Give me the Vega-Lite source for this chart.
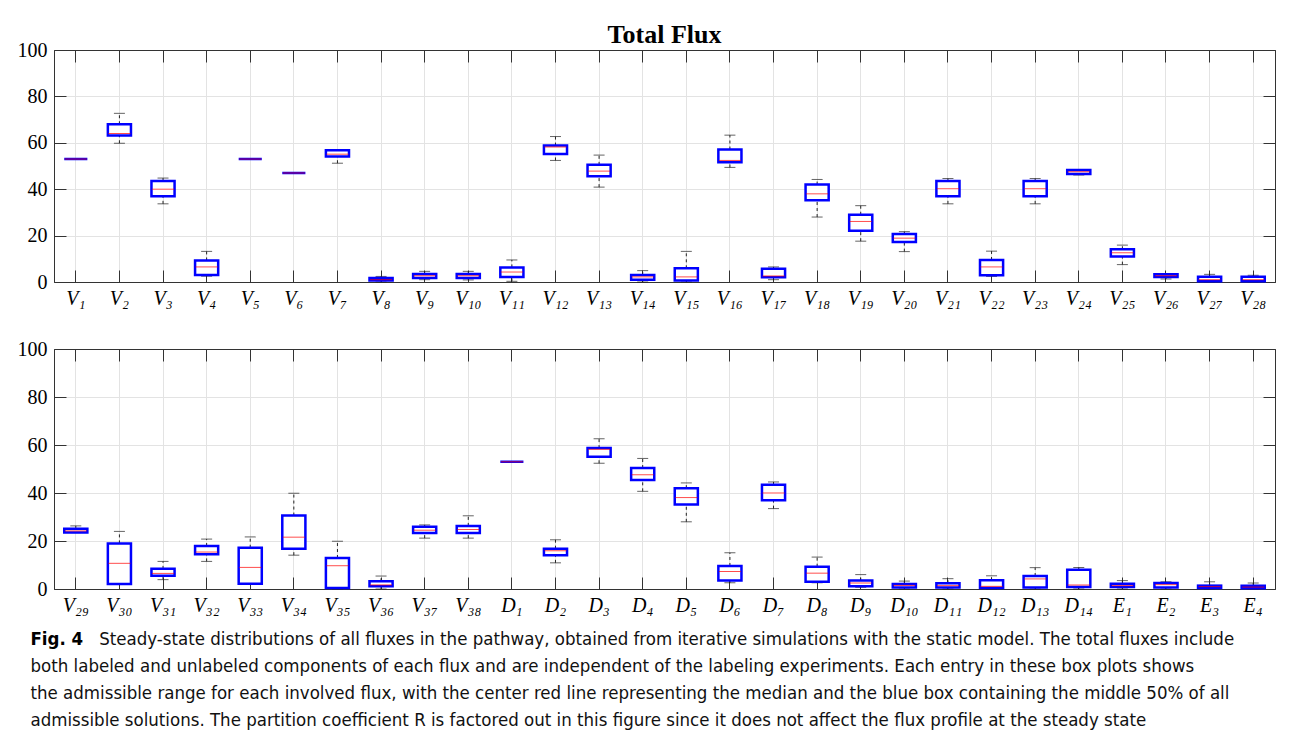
{
  "$schema": "https://vega.github.io/schema/vega-lite/v6.json",
  "background": "white",
  "padding": {"left": 16, "top": 21, "right": 10, "bottom": 2},
  "spacing": 29,
  "datasets": {
    "top": [
      {"name": "V₁", "min": 53, "q1": 53, "med": 53, "q3": 53, "max": 53},
      {"name": "V₂", "min": 59.8, "q1": 63.2, "med": 64, "q3": 68, "max": 72.7},
      {"name": "V₃", "min": 33.7, "q1": 37, "med": 40, "q3": 43.5, "max": 44.8},
      {"name": "V₄", "min": 2.5, "q1": 3, "med": 6.5, "q3": 9.3, "max": 13.2},
      {"name": "V₅", "min": 53, "q1": 53, "med": 53, "q3": 53, "max": 53},
      {"name": "V₆", "min": 47, "q1": 47, "med": 47, "q3": 47, "max": 47},
      {"name": "V₇", "min": 51.2, "q1": 54.1, "med": 55.1, "q3": 56.8, "max": 57},
      {"name": "V₈", "min": 0, "q1": 0.6, "med": 1, "q3": 1.7, "max": 2.4},
      {"name": "V₉", "min": 1, "q1": 1.7, "med": 2.7, "q3": 3.4, "max": 4.6},
      {"name": "V₁₀", "min": 0.9, "q1": 1.7, "med": 2.7, "q3": 3.4, "max": 4.6},
      {"name": "V₁₁", "min": 0.3, "q1": 2.2, "med": 4.3, "q3": 6.3, "max": 9.5},
      {"name": "V₁₂", "min": 52.4, "q1": 55.2, "med": 58.2, "q3": 58.8, "max": 62.7},
      {"name": "V₁₃", "min": 40.9, "q1": 45.6, "med": 47.8, "q3": 50.5, "max": 54.7},
      {"name": "V₁₄", "min": 0, "q1": 1, "med": 2.2, "q3": 3, "max": 4.9},
      {"name": "V₁₅", "min": 0, "q1": 0.6, "med": 2.2, "q3": 5.9, "max": 13.2},
      {"name": "V₁₆", "min": 49.4, "q1": 51.6, "med": 52.4, "q3": 57.1, "max": 63.3},
      {"name": "V₁₇", "min": 1, "q1": 2, "med": 2.6, "q3": 5.7, "max": 6.5},
      {"name": "V₁₈", "min": 28, "q1": 35.2, "med": 38, "q3": 42, "max": 44.2},
      {"name": "V₁₉", "min": 17.6, "q1": 22.1, "med": 26.1, "q3": 29, "max": 32.9},
      {"name": "V₂₀", "min": 13.1, "q1": 17.2, "med": 18.9, "q3": 20.7, "max": 21.7},
      {"name": "V₂₁", "min": 33.7, "q1": 37, "med": 40.2, "q3": 43.5, "max": 44.6},
      {"name": "V₂₂", "min": 2.4, "q1": 2.9, "med": 6.5, "q3": 9.5, "max": 13.3},
      {"name": "V₂₃", "min": 33.7, "q1": 37, "med": 40.2, "q3": 43.5, "max": 44.6},
      {"name": "V₂₄", "min": 46.1, "q1": 46.6, "med": 47.5, "q3": 48.3, "max": 48.3},
      {"name": "V₂₅", "min": 7.5, "q1": 11, "med": 12.6, "q3": 14.1, "max": 15.9},
      {"name": "V₂₆", "min": 1.3, "q1": 2.2, "med": 2.7, "q3": 3.3, "max": 3.6},
      {"name": "V₂₇", "min": 0, "q1": 0.3, "med": 1, "q3": 2.3, "max": 3.3},
      {"name": "V₂₈", "min": 0, "q1": 0.3, "med": 1, "q3": 2.3, "max": 2.9}
    ],
    "bottom": [
      {"name": "V₂₉", "min": 23.5, "q1": 23.5, "med": 24.2, "q3": 25.1, "max": 26.3},
      {"name": "V₃₀", "min": 2, "q1": 2.1, "med": 10.7, "q3": 19, "max": 24},
      {"name": "V₃₁", "min": 3.9, "q1": 5.5, "med": 6.5, "q3": 8.4, "max": 11.5},
      {"name": "V₃₂", "min": 11.5, "q1": 14.5, "med": 15.4, "q3": 17.9, "max": 20.8},
      {"name": "V₃₃", "min": 2.2, "q1": 2.2, "med": 9, "q3": 17.2, "max": 21.7},
      {"name": "V₃₄", "min": 14.1, "q1": 16.8, "med": 21.6, "q3": 30.6, "max": 39.9},
      {"name": "V₃₅", "min": 0, "q1": 0.4, "med": 9.7, "q3": 12.9, "max": 19.9},
      {"name": "V₃₆", "min": 0, "q1": 1.1, "med": 1.7, "q3": 3.2, "max": 5.4},
      {"name": "V₃₇", "min": 21.2, "q1": 23.3, "med": 24.5, "q3": 25.9, "max": 26.7},
      {"name": "V₃₈", "min": 21.2, "q1": 23.3, "med": 24.8, "q3": 26.3, "max": 30.5},
      {"name": "D₁", "min": 53, "q1": 53, "med": 53, "q3": 53, "max": 53},
      {"name": "D₂", "min": 10.9, "q1": 14.1, "med": 15.9, "q3": 16.8, "max": 20.5},
      {"name": "D₃", "min": 52.4, "q1": 55.1, "med": 58.2, "q3": 58.7, "max": 62.6},
      {"name": "D₄", "min": 40.7, "q1": 45.4, "med": 47.6, "q3": 50.4, "max": 54.4},
      {"name": "D₅", "min": 28, "q1": 35.2, "med": 38.1, "q3": 42, "max": 44.2},
      {"name": "D₆", "min": 2.6, "q1": 3.5, "med": 7.3, "q3": 9.6, "max": 15.1},
      {"name": "D₇", "min": 33.5, "q1": 37, "med": 40, "q3": 43.4, "max": 44.6},
      {"name": "D₈", "min": 2.6, "q1": 3, "med": 6.6, "q3": 9.3, "max": 13.3},
      {"name": "D₉", "min": 0.7, "q1": 1.1, "med": 2.5, "q3": 3.5, "max": 6},
      {"name": "D₁₀", "min": 0, "q1": 0.6, "med": 1.5, "q3": 2.1, "max": 3.3},
      {"name": "D₁₁", "min": 0, "q1": 0.6, "med": 1.4, "q3": 2.4, "max": 4.3},
      {"name": "D₁₂", "min": 0, "q1": 0.4, "med": 1.1, "q3": 3.6, "max": 5.5},
      {"name": "D₁₃", "min": 0, "q1": 0.6, "med": 4.2, "q3": 5.4, "max": 8.9},
      {"name": "D₁₄", "min": 0, "q1": 0.8, "med": 1.7, "q3": 8, "max": 9},
      {"name": "E₁", "min": 0, "q1": 0.8, "med": 1.4, "q3": 2.2, "max": 3.5},
      {"name": "E₂", "min": 0, "q1": 0.6, "med": 1.8, "q3": 2.5, "max": 3},
      {"name": "E₃", "min": 0, "q1": 0.4, "med": 1, "q3": 1.4, "max": 3},
      {"name": "E₄", "min": 0, "q1": 0.3, "med": 0.8, "q3": 1.4, "max": 2.5}
    ]
  },
  "title": {
    "text": "Fig. 4",
    "subtitle": [
      "\u200b\u00a0\u00a0\u00a0\u00a0\u00a0\u00a0\u00a0\u00a0\u00a0\u00a0\u00a0\u00a0\u00a0Steady-state distributions of all fluxes in the pathway, obtained from iterative simulations with the static model. The total fluxes include",
      "both labeled and unlabeled components of each flux and are independent of the labeling experiments. Each entry in these box plots shows",
      "the admissible range for each involved flux, with the center red line representing the median and the blue box containing the middle 50% of all",
      "admissible solutions. The partition coefficient R is factored out in this figure since it does not affect the flux profile at the steady state"
    ],
    "orient": "bottom",
    "anchor": "start",
    "frame": "bounds",
    "font": "DejaVu Sans Condensed, Liberation Sans Narrow, sans-serif",
    "fontSize": 18.5,
    "fontWeight": "bold",
    "color": "#000",
    "subtitleFont": "DejaVu Sans Condensed, Liberation Sans Narrow, sans-serif",
    "subtitleFontSize": 18.5,
    "subtitleColor": "#111",
    "subtitleLineHeight": 27,
    "subtitlePadding": -18.5,
    "offset": 14,
    "dx": 14
  },
  "vconcat": [
    {
      "width": 1221,
      "height": 232,
      "data": {"name": "top"},
      "title": {"text": "Total Flux", "font": "Liberation Serif", "fontSize": 26, "fontWeight": "bold", "color": "#000", "offset": -8},
      "layer": [
        {
          "mark": {"type": "rule", "strokeDash": [3, 3], "color": "#222", "strokeWidth": 1},
          "encoding": {
            "x": {"field": "name", "type": "nominal", "sort": null, "scale": {"paddingInner": 0, "paddingOuter": 0}, "axis": {"title": null, "labelAngle": 0, "grid": true, "tickSize": -12, "labelPadding": 18, "labelFontStyle": "italic"}},
            "y": {"field": "min", "type": "quantitative", "scale": {"domain": [0, 100], "nice": false}, "axis": {"title": null, "values": [0, 20, 40, 60, 80, 100], "grid": true, "tickSize": -12, "labelPadding": 19}},
            "y2": {"field": "q1"}
          }
        },
        {
          "mark": {"type": "rule", "strokeDash": [3, 3], "color": "#222", "strokeWidth": 1},
          "encoding": {
            "x": {"field": "name", "type": "nominal", "sort": null, "axis": null},
            "y": {"field": "q3", "type": "quantitative", "axis": null},
            "y2": {"field": "max"}
          }
        },
        {
          "mark": {"type": "tick", "color": "#222", "size": 11, "thickness": 1},
          "encoding": {
            "x": {"field": "name", "type": "nominal", "sort": null, "axis": null},
            "y": {"field": "min", "type": "quantitative", "axis": null}
          }
        },
        {
          "mark": {"type": "tick", "color": "#222", "size": 11, "thickness": 1},
          "encoding": {
            "x": {"field": "name", "type": "nominal", "sort": null, "axis": null},
            "y": {"field": "max", "type": "quantitative", "axis": null}
          }
        },
        {
          "mark": {"type": "bar", "fill": "white", "stroke": "#0000ff", "strokeWidth": 2.5, "width": {"band": 0.53}},
          "encoding": {
            "x": {"field": "name", "type": "nominal", "sort": null, "axis": null},
            "y": {"field": "q1", "type": "quantitative", "axis": null},
            "y2": {"field": "q3"}
          }
        },
        {
          "mark": {"type": "tick", "color": "#ff0000", "size": 22, "thickness": 1},
          "encoding": {
            "x": {"field": "name", "type": "nominal", "sort": null, "axis": {"orient": "top", "title": null, "labels": false, "grid": false, "tickSize": -12}},
            "y": {"field": "med", "type": "quantitative", "axis": {"orient": "right", "title": null, "labels": false, "grid": false, "tickSize": -12, "values": [0, 20, 40, 60, 80, 100]}}
          }
        }
      ],
      "resolve": {"axis": {"x": "independent", "y": "independent"}}
    },
    {
      "width": 1221,
      "height": 240,
      "data": {"name": "bottom"},
      "layer": [
        {
          "mark": {"type": "rule", "strokeDash": [3, 3], "color": "#222", "strokeWidth": 1},
          "encoding": {
            "x": {"field": "name", "type": "nominal", "sort": null, "scale": {"paddingInner": 0, "paddingOuter": 0}, "axis": {"title": null, "labelAngle": 0, "grid": true, "tickSize": -12, "labelPadding": 18, "labelFontStyle": "italic"}},
            "y": {"field": "min", "type": "quantitative", "scale": {"domain": [0, 100], "nice": false}, "axis": {"title": null, "values": [0, 20, 40, 60, 80, 100], "grid": true, "tickSize": -12, "labelPadding": 19}},
            "y2": {"field": "q1"}
          }
        },
        {
          "mark": {"type": "rule", "strokeDash": [3, 3], "color": "#222", "strokeWidth": 1},
          "encoding": {
            "x": {"field": "name", "type": "nominal", "sort": null, "axis": null},
            "y": {"field": "q3", "type": "quantitative", "axis": null},
            "y2": {"field": "max"}
          }
        },
        {
          "mark": {"type": "tick", "color": "#222", "size": 11, "thickness": 1},
          "encoding": {
            "x": {"field": "name", "type": "nominal", "sort": null, "axis": null},
            "y": {"field": "min", "type": "quantitative", "axis": null}
          }
        },
        {
          "mark": {"type": "tick", "color": "#222", "size": 11, "thickness": 1},
          "encoding": {
            "x": {"field": "name", "type": "nominal", "sort": null, "axis": null},
            "y": {"field": "max", "type": "quantitative", "axis": null}
          }
        },
        {
          "mark": {"type": "bar", "fill": "white", "stroke": "#0000ff", "strokeWidth": 2.5, "width": {"band": 0.53}},
          "encoding": {
            "x": {"field": "name", "type": "nominal", "sort": null, "axis": null},
            "y": {"field": "q1", "type": "quantitative", "axis": null},
            "y2": {"field": "q3"}
          }
        },
        {
          "mark": {"type": "tick", "color": "#ff0000", "size": 22, "thickness": 1},
          "encoding": {
            "x": {"field": "name", "type": "nominal", "sort": null, "axis": {"orient": "top", "title": null, "labels": false, "grid": false, "tickSize": -12}},
            "y": {"field": "med", "type": "quantitative", "axis": {"orient": "right", "title": null, "labels": false, "grid": false, "tickSize": -12, "values": [0, 20, 40, 60, 80, 100]}}
          }
        }
      ],
      "resolve": {"axis": {"x": "independent", "y": "independent"}}
    }
  ],
  "config": {
    "view": {"stroke": "#333", "strokeWidth": 1},
    "axis": {
      "labelFont": "Liberation Serif",
      "labelFontSize": 20,
      "labelColor": "#000",
      "domainColor": "#333",
      "tickColor": "#333",
      "gridColor": "#e3e3e3",
      "gridWidth": 1
    }
  }
}
